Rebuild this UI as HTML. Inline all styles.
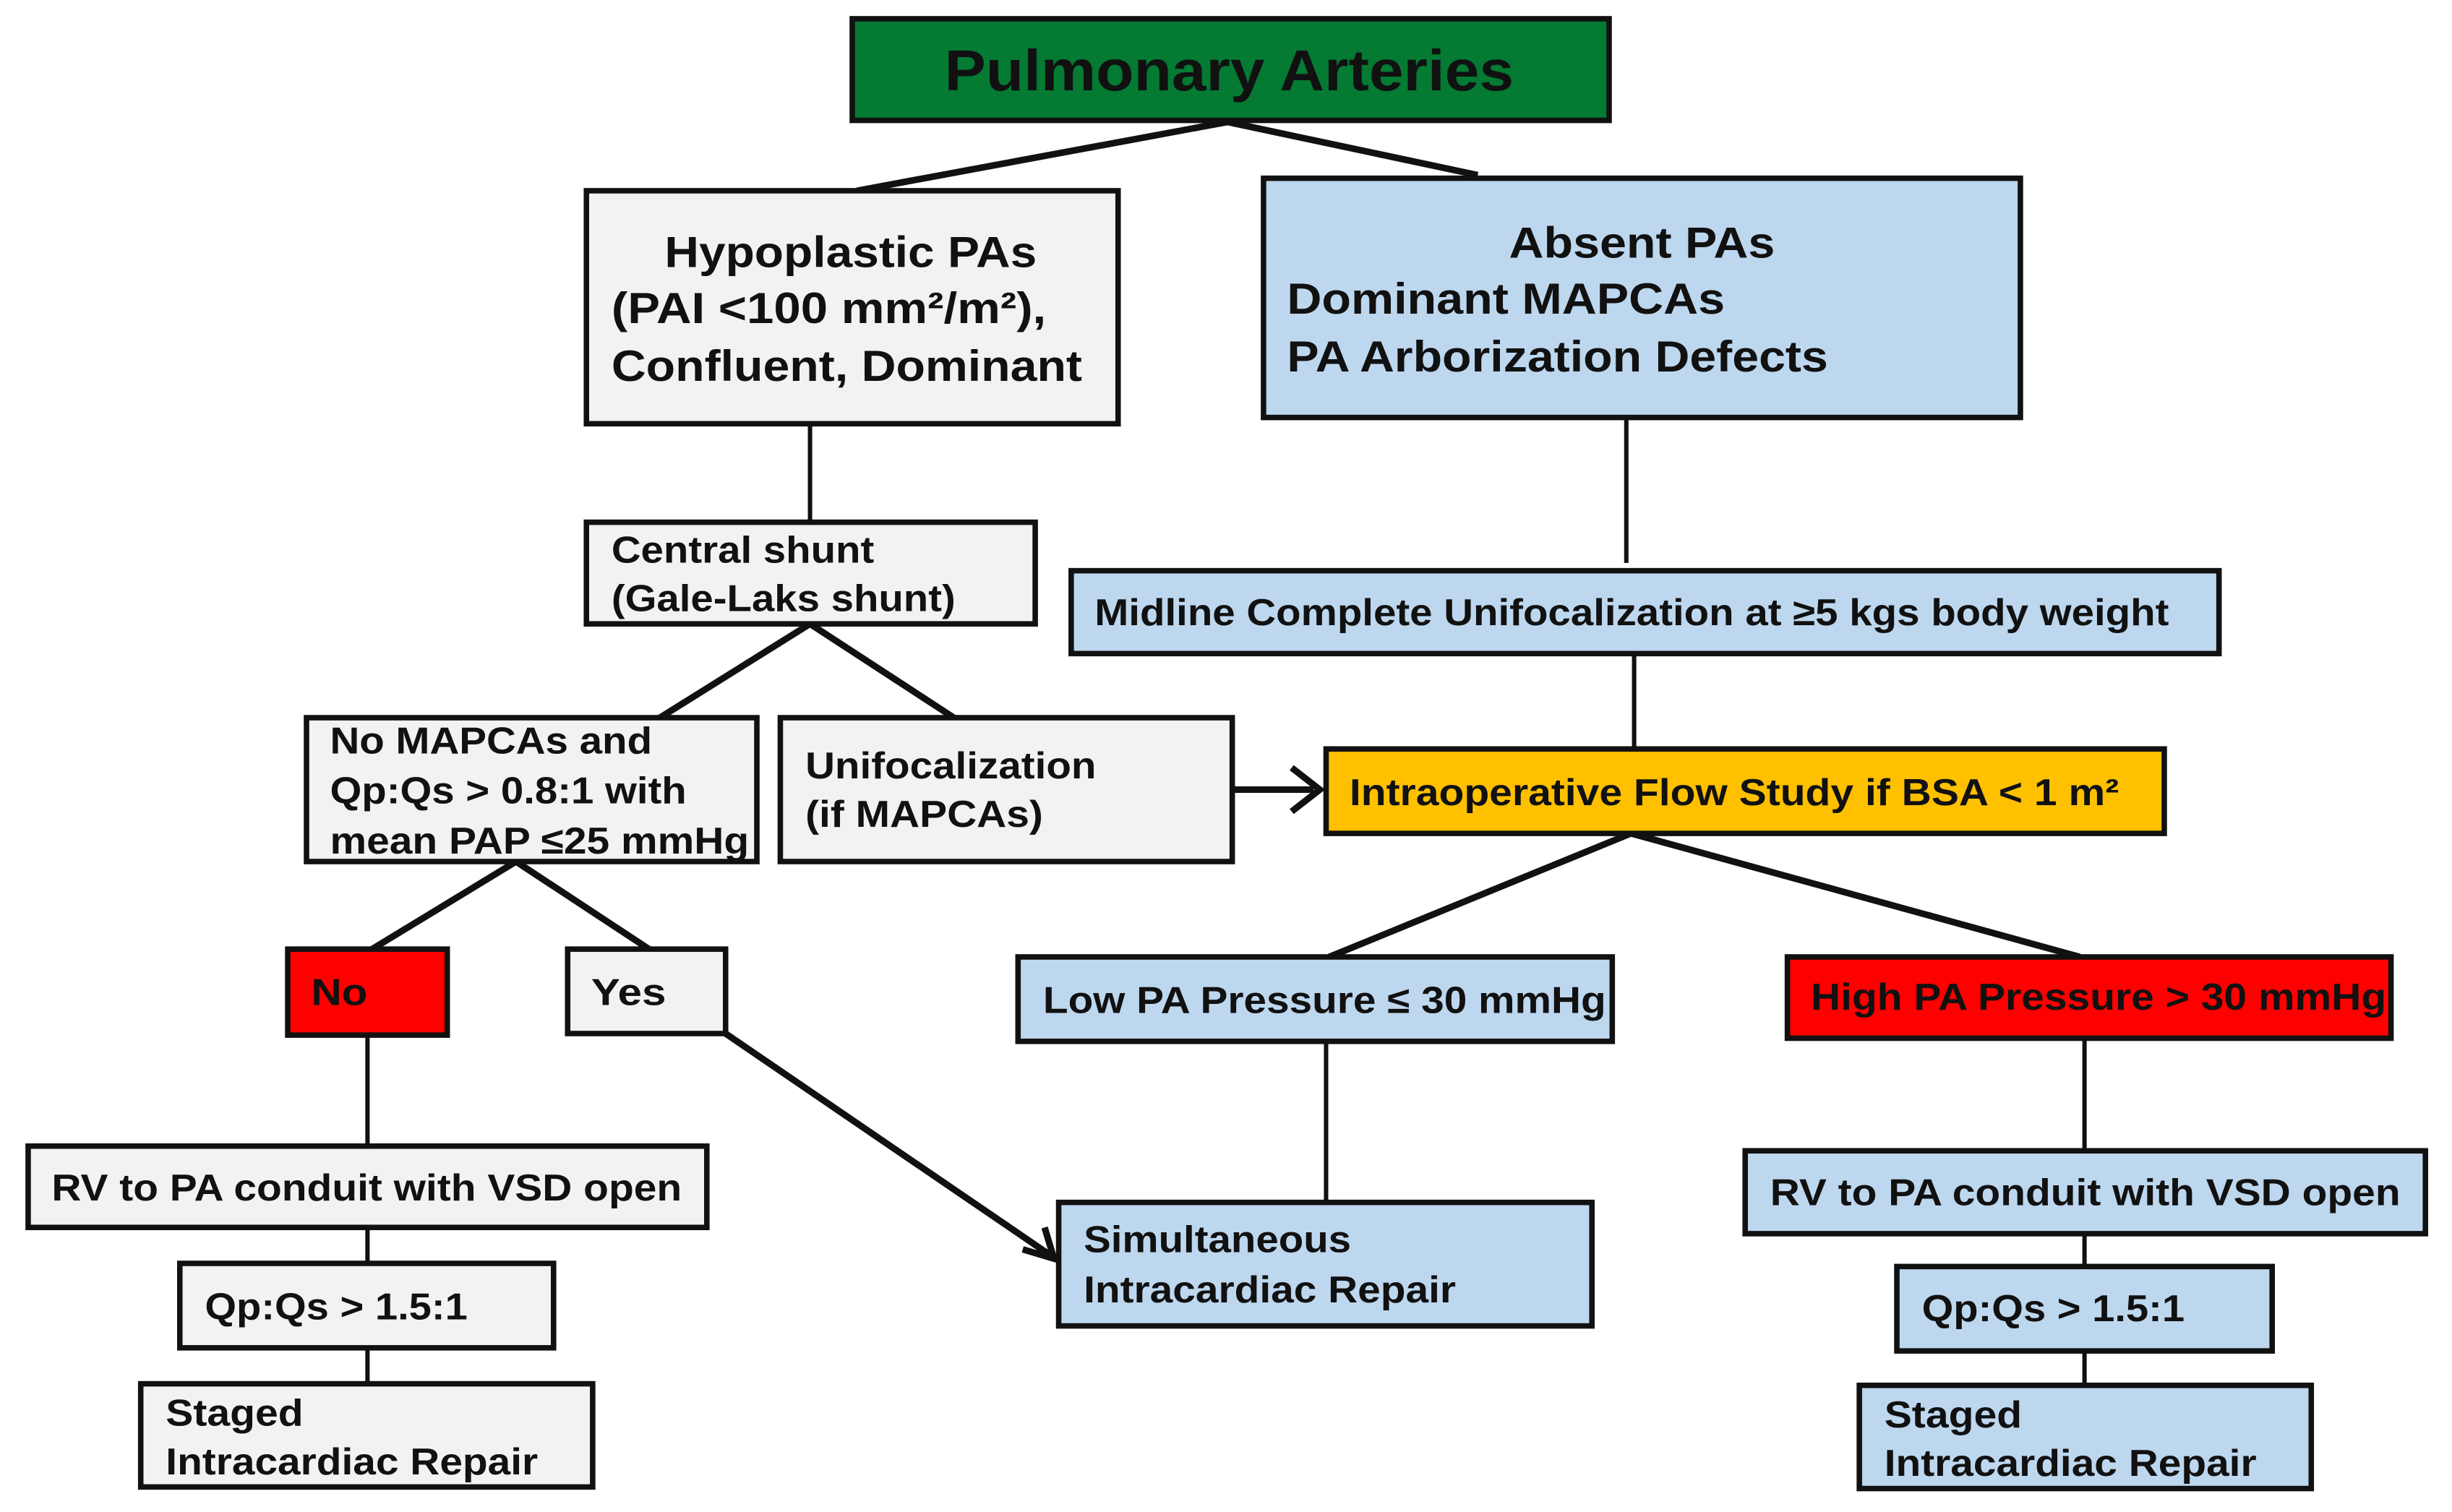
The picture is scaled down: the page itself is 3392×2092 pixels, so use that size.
<!DOCTYPE html>
<html><head><meta charset="utf-8"><style>
html,body{margin:0;padding:0;background:#fff;}
svg{display:block;}
text{font-family:"Liberation Sans",Arial,sans-serif;font-weight:bold;fill:#111;dominant-baseline:central;}
.b{stroke:#111;stroke-width:3.5;}
.l{stroke:#111;stroke-width:2.8;fill:none;}
.t{stroke:#111;stroke-width:4.2;fill:none;}
</style></head><body>
<svg width="3392" height="2092" viewBox="0 0 1568 967" preserveAspectRatio="none" xmlns="http://www.w3.org/2000/svg">
<!-- connectors -->
<path class="t" d="M785 78 L548 122 M785 78 L945 112"/>
<path class="l" d="M518 271 L518 334 M1040 267 L1040 360 M1045 418 L1045 479"/>
<path class="t" d="M518 399 L422 459 M518 399 L610 459"/>
<path class="t" d="M330 551 L238 607 M330 551 L415 607"/>
<path class="t" d="M1043 533 L850 612 M1043 533 L1330 612"/>
<path class="l" d="M235 662 L235 733 M235 785 L235 808 M235 862 L235 885"/>
<path class="l" d="M848 666 L848 769 M1333 664 L1333 736 M1333 789 L1333 810 M1333 864 L1333 886"/>
<path class="t" d="M788 505 L840 505" stroke-width="5"/>
<path class="t" d="M826 491 L844 505 L826 519" stroke-width="5"/>
<path class="t" d="M464 661 L672 803" stroke-width="4.6"/>
<path class="t" d="M654 799 L674 805 L668 785" stroke-width="5"/>
<!-- boxes -->
<rect class="b" x="545" y="12" width="484" height="65" fill="#047a33"/>
<rect class="b" x="375" y="122" width="340" height="149" fill="#f2f2f2"/>
<rect class="b" x="808" y="114" width="484" height="153" fill="#bdd7ee"/>
<rect class="b" x="375" y="334" width="287" height="65" fill="#f2f2f2"/>
<rect class="b" x="685" y="365" width="734" height="53" fill="#bdd7ee"/>
<rect class="b" x="196" y="459" width="288" height="92" fill="#f2f2f2"/>
<rect class="b" x="499" y="459" width="289" height="92" fill="#f2f2f2"/>
<rect class="b" x="848" y="479" width="536" height="54" fill="#ffc000"/>
<rect class="b" x="184" y="607" width="102" height="55" fill="#ff0000"/>
<rect class="b" x="363" y="607" width="101" height="54" fill="#f2f2f2"/>
<rect class="b" x="651" y="612" width="380" height="54" fill="#bdd7ee"/>
<rect class="b" x="1143" y="612" width="386" height="52" fill="#ff0000"/>
<rect class="b" x="18" y="733" width="434" height="52" fill="#f2f2f2"/>
<rect class="b" x="115" y="808" width="239" height="54" fill="#f2f2f2"/>
<rect class="b" x="90" y="885" width="289" height="66" fill="#f2f2f2"/>
<rect class="b" x="677" y="769" width="341" height="79" fill="#bdd7ee"/>
<rect class="b" x="1116" y="736" width="435" height="53" fill="#bdd7ee"/>
<rect class="b" x="1213" y="810" width="240" height="54" fill="#bdd7ee"/>
<rect class="b" x="1189" y="886" width="289" height="66" fill="#bdd7ee"/>
<!-- text -->
<text x="604" y="45" font-size="37" textLength="364" lengthAdjust="spacingAndGlyphs">Pulmonary Arteries</text>
<text x="425" y="161" font-size="28" textLength="238" lengthAdjust="spacingAndGlyphs">Hypoplastic PAs</text>
<text x="391" y="197" font-size="28" textLength="278" lengthAdjust="spacingAndGlyphs">(PAI &lt;100 mm²/m²),</text>
<text x="391" y="234" font-size="28" textLength="301" lengthAdjust="spacingAndGlyphs">Confluent, Dominant</text>
<text x="965" y="155" font-size="28" textLength="170" lengthAdjust="spacingAndGlyphs">Absent PAs</text>
<text x="823" y="191" font-size="28" textLength="280" lengthAdjust="spacingAndGlyphs">Dominant MAPCAs</text>
<text x="823" y="228" font-size="28" textLength="346" lengthAdjust="spacingAndGlyphs">PA Arborization Defects</text>
<text x="391" y="352" font-size="24" textLength="168" lengthAdjust="spacingAndGlyphs">Central shunt</text>
<text x="391" y="383" font-size="24" textLength="220" lengthAdjust="spacingAndGlyphs">(Gale-Laks shunt)</text>
<text x="700" y="392" font-size="24" textLength="687" lengthAdjust="spacingAndGlyphs">Midline Complete Unifocalization at ≥5 kgs body weight</text>
<text x="211" y="474" font-size="24" textLength="206" lengthAdjust="spacingAndGlyphs">No MAPCAs and</text>
<text x="211" y="506" font-size="24" textLength="228" lengthAdjust="spacingAndGlyphs">Qp:Qs &gt; 0.8:1 with</text>
<text x="211" y="538" font-size="24" textLength="268" lengthAdjust="spacingAndGlyphs">mean PAP ≤25 mmHg</text>
<text x="515" y="490" font-size="24" textLength="186" lengthAdjust="spacingAndGlyphs">Unifocalization</text>
<text x="515" y="521" font-size="24" textLength="152" lengthAdjust="spacingAndGlyphs">(if MAPCAs)</text>
<text x="863" y="507" font-size="24" textLength="492" lengthAdjust="spacingAndGlyphs">Intraoperative Flow Study if BSA &lt; 1 m²</text>
<text x="199" y="635" font-size="24" textLength="36" lengthAdjust="spacingAndGlyphs">No</text>
<text x="378" y="635" font-size="24" textLength="48" lengthAdjust="spacingAndGlyphs">Yes</text>
<text x="667" y="640" font-size="24" textLength="360" lengthAdjust="spacingAndGlyphs">Low PA Pressure ≤ 30 mmHg</text>
<text x="1158" y="638" font-size="24" textLength="368" lengthAdjust="spacingAndGlyphs">High PA Pressure &gt; 30 mmHg</text>
<text x="33" y="760" font-size="24" textLength="403" lengthAdjust="spacingAndGlyphs">RV to PA conduit with VSD open</text>
<text x="131" y="836" font-size="24" textLength="168" lengthAdjust="spacingAndGlyphs">Qp:Qs &gt; 1.5:1</text>
<text x="106" y="904" font-size="24" textLength="88" lengthAdjust="spacingAndGlyphs">Staged</text>
<text x="106" y="935" font-size="24" textLength="238" lengthAdjust="spacingAndGlyphs">Intracardiac Repair</text>
<text x="693" y="793" font-size="24" textLength="171" lengthAdjust="spacingAndGlyphs">Simultaneous</text>
<text x="693" y="825" font-size="24" textLength="238" lengthAdjust="spacingAndGlyphs">Intracardiac Repair</text>
<text x="1132" y="763" font-size="24" textLength="403" lengthAdjust="spacingAndGlyphs">RV to PA conduit with VSD open</text>
<text x="1229" y="837" font-size="24" textLength="168" lengthAdjust="spacingAndGlyphs">Qp:Qs &gt; 1.5:1</text>
<text x="1205" y="905" font-size="24" textLength="88" lengthAdjust="spacingAndGlyphs">Staged</text>
<text x="1205" y="936" font-size="24" textLength="238" lengthAdjust="spacingAndGlyphs">Intracardiac Repair</text>
</svg>
</body></html>
